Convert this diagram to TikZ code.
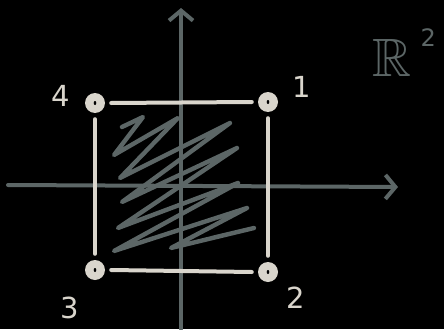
\documentclass[tikz,border=0pt]{standalone}
\usepackage{amssymb}
\usepackage{fontspec}
\setsansfont{DejaVu Sans}
\usetikzlibrary{arrows.meta,positioning}
\definecolor{chalk}{HTML}{D9D5CC}
\definecolor{slate}{HTML}{5C6666}
\tikzset{
  >={Straight Barb[length=10pt,width=24pt,line width=4pt]},
  axis/.style   ={->, slate, line width=4pt, line cap=round},
  side/.style   ={chalk, line width=4pt, line cap=round},
  corner/.style ={circle, fill=chalk, minimum size=20pt, inner sep=0pt},
  num/.style    ={chalk, font=\sffamily\fontsize{29}{29}\selectfont},
  hatch/.style  ={slate, line width=4.4pt, line cap=round, line join=round},
}

\begin{document}
\begin{tikzpicture}[x=1pt,y=-1pt]
  \fill[black] (0,0) rectangle (444,329);
  \useasboundingbox (0,0) rectangle (444,329);

  % axes
  \coordinate (xl) at (8,185);
  \coordinate (xr) at (398,187);
  \coordinate (yb) at (181,329);
  \coordinate (yt) at (181,8);

  % shaded region
  \draw[hatch] (122,127) -- (143,117) -- (114,155) -- (178,118) -- (120,178)
    -- (230,123) -- (122,202) -- (237,148) -- (118,228) -- (238,183)
    -- (114,251) -- (247,208) -- (171,248) -- (254,228) -- (212,238);

  \draw[axis] (xl) -- (xr);
  \draw[axis] (yb) -- (yt);

  % corners
  \node[corner] (c1) at (268,102) {};
  \node[corner] (c2) at (268,272) {};
  \node[corner] (c3) at (95,270) {};
  \node[corner] (c4) at (95,103) {};
  \foreach \c in {c1,c2,c3,c4}
    \fill[black] (\c) ellipse (1.3pt and 2pt);

  \draw[side] ([xshift=6pt]c4.east) -- ([xshift=-6pt]c1.west);
  \draw[side] ([yshift=-6pt]c1.south) -- ([yshift=6pt]c2.north);
  \draw[side] ([xshift=6pt]c3.east) -- ([xshift=-6pt]c2.west);
  \draw[side] ([yshift=-6pt]c4.south) -- ([yshift=6pt]c3.north);

  \node[num, above right=-6pt and 14pt of c1] (n1) {1};
  \node[num, below right=4pt and 8pt of c2] (n2) {2};
  \node[num, below left=16pt and 5pt of c3] (n3) {3};
  \node[num, above left=-14pt and 14pt of c4] (n4) {4};

  \node[slate, font=\fontsize{54}{54}\selectfont] (r) at (392,58) {$\mathbb{R}$};
  \node[slate, font=\sffamily\fontsize{24}{24}\selectfont, above right=-14pt and 2pt of r] (sq) {2};
\end{tikzpicture}
\end{document}
